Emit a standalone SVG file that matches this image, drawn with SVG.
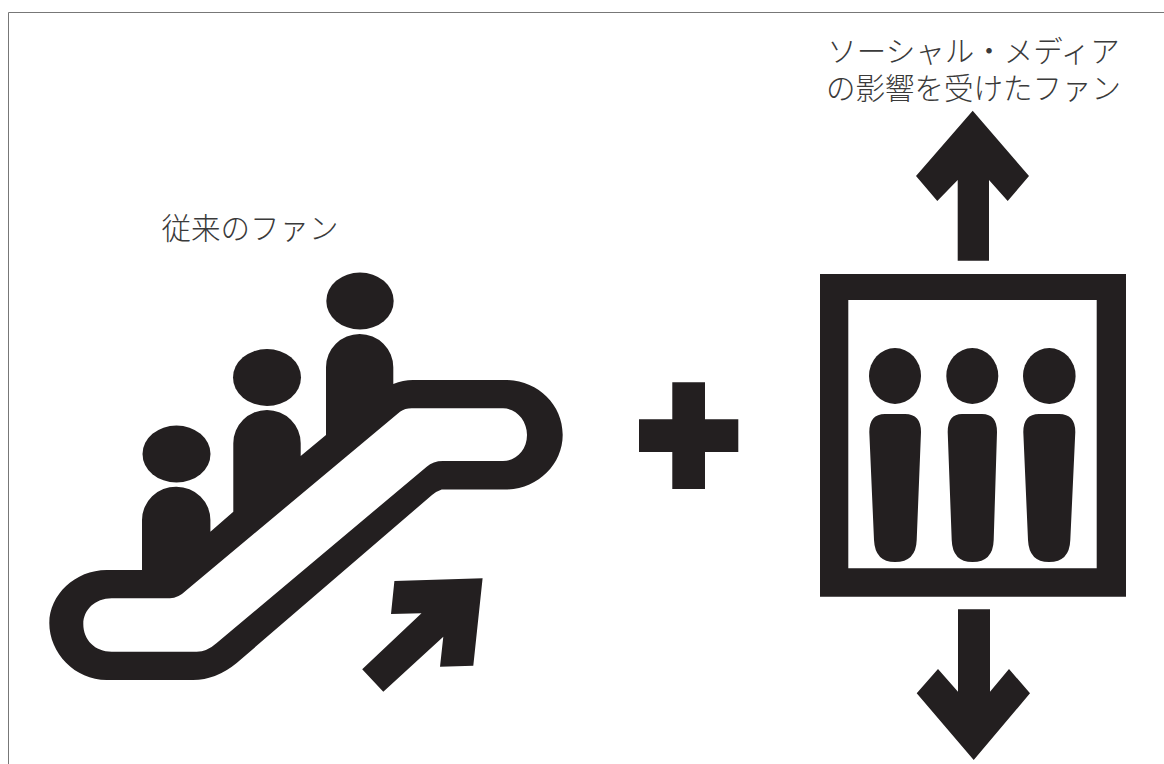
<svg xmlns="http://www.w3.org/2000/svg" width="1164" height="764" viewBox="0 0 1164 764">
<style>
.k{fill:#231f20}
.t{font-family:"Noto Sans CJK JP","Noto Sans",sans-serif;font-size:29.500px;fill:#3a3a3a;font-weight:300;text-anchor:middle}
.f{fill:none;stroke:#777;stroke-width:1}
</style>
<rect width="1164" height="764" fill="#fff"/>
<path id="frame" class="f" d="M1164 12.500H8.500V764"/>
<g id="escalator">
<path class="k" fill-rule="evenodd" d="M106.700 570H142V520A34 33.300 0 0 1 176.500 486.700A33.900 33.300 0 0 1 210.400 520V531.700L233.300 511.700V443.300A33.700 33.300 0 0 1 267 410A33.700 33.300 0 0 1 300.700 443.300V456L326 435V367.300A33.650 33.300 0 0 1 359.650 334A33.650 33.300 0 0 1 393.300 367.300V384Q403 380 413 380H505C537 380 562.700 404 562.700 434.700C562.700 465 537 489.500 505 489.500H441.700Q437 491 432 495L236.700 663Q216 680 193 680H106.700C75 680 49.300 653 49.300 623C49.300 595 75 570 106.700 570ZM400 411.700L186.700 590Q178 598.300 170 598.300H111.700C95 598.300 83.300 610 83.300 624C83.300 640 95 651.700 111.700 651.700H196.700Q207 651.700 216.700 643L426.700 466.700Q433 461 443 461H503C516 461 527 450 527 435C527 420 516 408.300 503 408.300H411.700Q405 408.300 400 411.700Z"/>
<ellipse class="k" cx="176.500" cy="454" rx="34" ry="28.500"/>
<ellipse class="k" cx="267" cy="377.500" rx="34" ry="28.500"/>
<ellipse class="k" cx="360" cy="301" rx="33.700" ry="28.500"/>
<path class="k" d="M394.400 581L482.600 578.300L473.300 665.700L440 666.700L443.300 636.700L383.300 691.700L362.200 669.300L421.500 613.300L391 614Z"/>
</g>
<g id="plus"><path class="k" d="M672.300 382.300H705V419.300H738.300V452H705V489H672.300V452H639V419.300H672.300Z"/></g>
<g id="elevator">
<path class="k" fill-rule="evenodd" d="M820 274H1126V596.700H820ZM848.300 300V568.300H1096.700V300Z"/>
<ellipse class="k" cx="895" cy="376" rx="26" ry="28"/>
<ellipse class="k" cx="972.300" cy="376" rx="26" ry="28"/>
<ellipse class="k" cx="1049.300" cy="376" rx="26.300" ry="28"/>
<path class="k" d="M869.300 432Q869.300 414 885 414H905Q921 414 921 432L916.700 540Q916 562 895 562Q875 562 874 540Z"/>
<path class="k" d="M947.700 432Q947.700 414 962 414H982Q997 414 997 432L993.700 540Q993 562 972.500 562Q952.500 562 951.700 540Z"/>
<path class="k" d="M1023.300 432Q1023.300 414 1039 414H1059Q1075.300 414 1075.300 432L1070.300 540Q1069.500 562 1049 562Q1029 562 1028 540Z"/>
</g>
<g id="arrows">
<path id="arrow-up" class="k" d="M972.700 110.700L1029 176L1007.700 201L989 180V260.700H957.700V180L937.300 201L916 176Z"/>
<path id="arrow-down" class="k" d="M958 609.300H990V691.700L1009 669L1030 693.300L973.700 760L916.700 693.300L938 669L958 691.700Z"/>
</g>
<g id="labels">
<text class="t" x="973.500" y="62">ソーシャル・メディア</text>
<text class="t" x="973.500" y="99">の影響を受けたファン</text>
<text class="t" x="250" y="239">従来のファン</text>
</g>
</svg>
